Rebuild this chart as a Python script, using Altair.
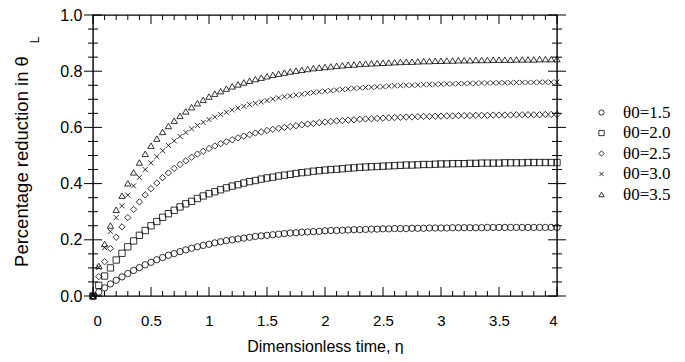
import altair as alt
import pandas as pd

# sampling grid of dimensionless time (x values)
eta = [0.00, 0.05, 0.10, 0.15, 0.20, 0.25, 0.30, 0.35, 0.40, 0.45, 0.50,
       0.55, 0.60, 0.65, 0.70, 0.75, 0.80, 0.85, 0.90, 0.95, 1.00,
       1.05, 1.10, 1.15, 1.20, 1.25, 1.30, 1.35, 1.40, 1.45, 1.50,
       1.55, 1.60, 1.65, 1.70, 1.75, 1.80, 1.85, 1.90, 1.95, 2.00,
       2.05, 2.10, 2.15, 2.20, 2.25, 2.30, 2.35, 2.40, 2.45, 2.50,
       2.55, 2.60, 2.65, 2.70, 2.75, 2.80, 2.85, 2.90, 2.95, 3.00,
       3.05, 3.10, 3.15, 3.20, 3.25, 3.30, 3.35, 3.40, 3.45, 3.50,
       3.55, 3.60, 3.65, 3.70, 3.75, 3.80, 3.85, 3.90, 3.95, 4.00]

theta15 = [0.0,
    0.014, 0.029, 0.043, 0.056, 0.068, 0.080, 0.091, 0.101, 0.111, 0.120,
    0.129, 0.137, 0.145, 0.151, 0.158, 0.164, 0.170, 0.175, 0.180, 0.184,
    0.189, 0.193, 0.197, 0.200, 0.203, 0.206, 0.209, 0.212, 0.214, 0.216,
    0.218, 0.220, 0.222, 0.224, 0.225, 0.227, 0.228, 0.229, 0.230, 0.232,
    0.233, 0.233, 0.234, 0.235, 0.236, 0.236, 0.237, 0.238, 0.238, 0.239,
    0.239, 0.240, 0.240, 0.240, 0.241, 0.241, 0.241, 0.242, 0.242, 0.242,
    0.242, 0.243, 0.243, 0.243, 0.243, 0.243, 0.243, 0.244, 0.244, 0.244,
    0.244, 0.244, 0.244, 0.244, 0.244, 0.244, 0.244, 0.244, 0.244, 0.244]

theta20 = [0.0,
    0.038, 0.071, 0.100, 0.128, 0.152, 0.175, 0.196, 0.216, 0.233, 0.250,
    0.265, 0.280, 0.293, 0.305, 0.317, 0.328, 0.337, 0.347, 0.356, 0.364,
    0.371, 0.378, 0.385, 0.391, 0.396, 0.402, 0.407, 0.411, 0.416, 0.420,
    0.423, 0.427, 0.430, 0.433, 0.436, 0.439, 0.441, 0.444, 0.446, 0.448,
    0.450, 0.451, 0.453, 0.455, 0.456, 0.458, 0.459, 0.460, 0.461, 0.462,
    0.463, 0.464, 0.465, 0.466, 0.466, 0.467, 0.468, 0.468, 0.469, 0.470,
    0.470, 0.471, 0.471, 0.471, 0.472, 0.472, 0.473, 0.473, 0.473, 0.473,
    0.474, 0.474, 0.474, 0.474, 0.475, 0.475, 0.475, 0.475, 0.475, 0.475]

theta25 = [0.0,
    0.069, 0.122, 0.169, 0.209, 0.246, 0.279, 0.308, 0.335, 0.360, 0.382,
    0.402, 0.421, 0.438, 0.454, 0.468, 0.481, 0.494, 0.505, 0.515, 0.525,
    0.534, 0.542, 0.549, 0.556, 0.563, 0.569, 0.574, 0.580, 0.584, 0.589,
    0.593, 0.597, 0.600, 0.603, 0.606, 0.609, 0.612, 0.614, 0.617, 0.619,
    0.621, 0.623, 0.624, 0.626, 0.627, 0.629, 0.630, 0.631, 0.632, 0.633,
    0.634, 0.635, 0.636, 0.637, 0.637, 0.638, 0.639, 0.639, 0.640, 0.640,
    0.641, 0.641, 0.642, 0.642, 0.642, 0.643, 0.643, 0.643, 0.644, 0.644,
    0.644, 0.644, 0.645, 0.645, 0.645, 0.645, 0.645, 0.646, 0.646, 0.646]

theta30 = [0.0,
    0.102, 0.172, 0.230, 0.279, 0.321, 0.359, 0.392, 0.422, 0.450, 0.474,
    0.496, 0.517, 0.536, 0.552, 0.568, 0.582, 0.595, 0.607, 0.618, 0.628,
    0.637, 0.646, 0.654, 0.662, 0.669, 0.675, 0.681, 0.686, 0.691, 0.696,
    0.701, 0.705, 0.709, 0.712, 0.715, 0.718, 0.721, 0.724, 0.727, 0.729,
    0.731, 0.733, 0.735, 0.737, 0.739, 0.740, 0.742, 0.743, 0.744, 0.745,
    0.747, 0.748, 0.749, 0.750, 0.750, 0.751, 0.752, 0.753, 0.753, 0.754,
    0.755, 0.755, 0.756, 0.756, 0.757, 0.757, 0.758, 0.758, 0.758, 0.759,
    0.759, 0.759, 0.760, 0.760, 0.760, 0.760, 0.761, 0.761, 0.761, 0.761]

theta35 = [0.0,
    0.107, 0.185, 0.251, 0.307, 0.357, 0.401, 0.440, 0.475, 0.506, 0.535,
    0.560, 0.584, 0.605, 0.624, 0.641, 0.657, 0.672, 0.686, 0.698, 0.710,
    0.720, 0.729, 0.738, 0.746, 0.753, 0.760, 0.766, 0.772, 0.777, 0.782,
    0.787, 0.791, 0.795, 0.799, 0.802, 0.805, 0.808, 0.811, 0.813, 0.815,
    0.817, 0.819, 0.821, 0.823, 0.824, 0.826, 0.827, 0.828, 0.829, 0.830,
    0.831, 0.832, 0.833, 0.834, 0.834, 0.835, 0.836, 0.836, 0.837, 0.837,
    0.838, 0.838, 0.839, 0.839, 0.839, 0.840, 0.840, 0.840, 0.841, 0.841,
    0.841, 0.841, 0.842, 0.842, 0.842, 0.842, 0.843, 0.843, 0.843, 0.843]

series_labels = ["θ0=1.5", "θ0=2.0", "θ0=2.5", "θ0=3.0", "θ0=3.5"]
series_values = [theta15, theta20, theta25, theta30, theta35]

x_major = [0, 0.5, 1, 1.5, 2, 2.5, 3, 3.5, 4]
x_minor = [0.1, 0.2, 0.3, 0.4, 0.6, 0.7, 0.8, 0.9, 1.1, 1.2, 1.3, 1.4,
           1.6, 1.7, 1.8, 1.9, 2.1, 2.2, 2.3, 2.4, 2.6, 2.7, 2.8, 2.9,
           3.1, 3.2, 3.3, 3.4, 3.6, 3.7, 3.8, 3.9]
y_major = [0.0, 0.2, 0.4, 0.6, 0.8, 1.0]
y_minor = [0.05, 0.10, 0.15, 0.25, 0.30, 0.35, 0.45, 0.50, 0.55,
           0.65, 0.70, 0.75, 0.85, 0.90, 0.95]

rows = []
for lab, vals in zip(series_labels, series_values):
    for e, v in zip(eta, vals):
        rows.append({"eta": e, "val": v, "series": lab})
df = pd.DataFrame(rows)

W, H = 464, 281
FONT = "Liberation Sans"
SERIF = "Liberation Serif"

xscale = alt.Scale(domain=[0, 4], nice=False, zero=False)
yscale = alt.Scale(domain=[0, 1], nice=False, zero=False)

xaxis = alt.Axis(values=x_major, labelExpr="datum.value", domain=False, ticks=False,
                 grid=False, labelFont=FONT, labelFontSize=15, labelColor="black",
                 labelPadding=17, title="Dimensionless time, η", titleFont=FONT,
                 titleFontSize=16, titleFontWeight="normal", titleColor="black",
                 titleX=W / 2, titleY=55, titleBaseline="alphabetic")
yaxis = alt.Axis(values=y_major, format=".1f", domain=False, ticks=False,
                 grid=False, labelFont=FONT, labelFontSize=16, labelColor="black",
                 labelPadding=11, title="Percentage reduction in θ", titleFont=FONT,
                 titleFontSize=18.5, titleFontWeight="normal", titleColor="black",
                 titleAngle=270, titleX=-66, titleY=146, titleAlign="center",
                 titleBaseline="alphabetic")

cross_path = "M-0.8,-0.8L0.8,0.8M-0.8,0.8L0.8,-0.8"
shapes = ["circle", "square", "diamond", cross_path, "triangle-up"]

points = alt.Chart(df).mark_point(filled=False, strokeWidth=0.8, opacity=1).encode(
    x=alt.X("eta:Q", scale=xscale, axis=xaxis),
    y=alt.Y("val:Q", scale=yscale, axis=yaxis),
    shape=alt.Shape("series:N", scale=alt.Scale(domain=series_labels, range=shapes),
                    legend=alt.Legend(title=None, orient="none", legendX=500, legendY=89,
                                      labelFont=SERIF, labelFontSize=17, labelColor="black",
                                      symbolSize=28, symbolStrokeColor="black",
                                      symbolStrokeWidth=0.8, symbolFillColor="transparent",
                                      labelOffset=13, rowPadding=2.5, padding=0)),
    color=alt.value("black"),
    size=alt.value(40),
)

ymaj_df = pd.DataFrame({"val": y_major})
ymin_df = pd.DataFrame({"val": y_minor})
xmaj_df = pd.DataFrame({"eta": x_major})
xmin_df = pd.DataFrame({"eta": x_minor})

def yrule(data, x1, x2):
    return alt.Chart(data).mark_rule(color="black", strokeWidth=1).encode(
        y=alt.Y("val:Q", scale=yscale, axis=yaxis), x=alt.value(x1), x2=alt.value(x2))

def xrule(data, y1, y2):
    return alt.Chart(data).mark_rule(color="black", strokeWidth=1).encode(
        x=alt.X("eta:Q", scale=xscale, axis=xaxis), y=alt.value(y1), y2=alt.value(y2))

ticks = [
    yrule(ymaj_df, -9, 9), yrule(ymin_df, -5, 5),
    yrule(ymaj_df, W - 9, W + 9), yrule(ymin_df, W - 5, W + 5),
    xrule(xmaj_df, H, H - 9), xrule(xmin_df, H, H - 5),
    xrule(xmaj_df, 0, 9), xrule(xmin_df, 0, 5),
]

sub = alt.Chart(pd.DataFrame({"t": ["L"]})).mark_text(
    angle=270, font=FONT, fontSize=12, color="black").encode(
    text="t:N", x=alt.value(-58), y=alt.value(25))

chart = alt.layer(points, *ticks, sub).properties(
    width=W, height=H,
    background="white",
    autosize=alt.AutoSizeParams(type="none"),
    padding={"left": 85, "top": 7, "right": 120, "bottom": 58},
).configure_view(stroke="black", strokeWidth=1.4)

chart.save("out.html", embed_options={"renderer": "svg", "actions": False})
